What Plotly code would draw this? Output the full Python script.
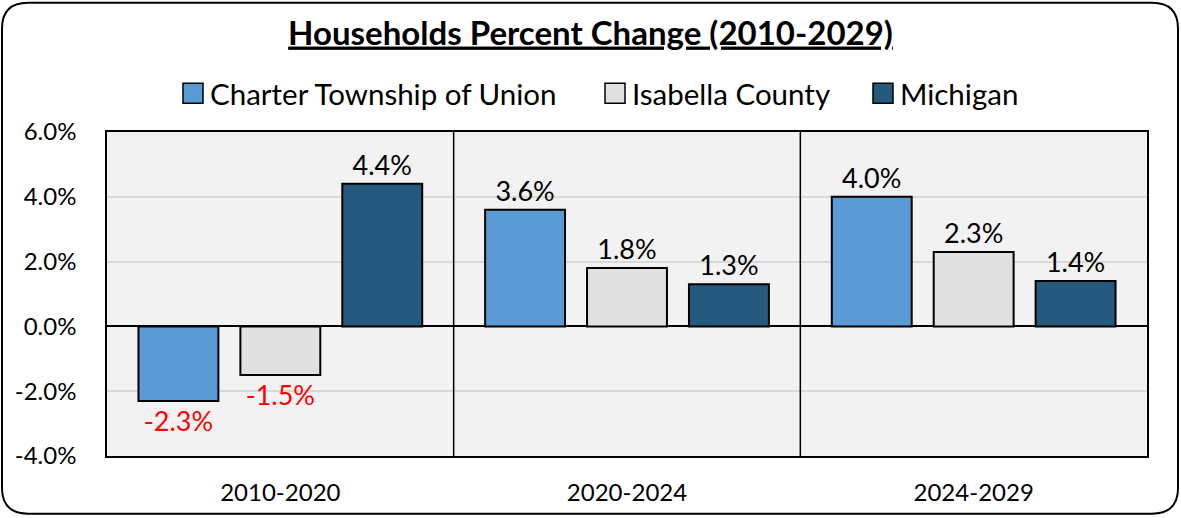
import plotly.graph_objects as go

categories = ["2010-2020", "2020-2024", "2024-2029"]
series_names = ["Charter Township of Union", "Isabella County", "Michigan"]
union_vals = [-2.3, 3.6, 4.0]
isabella_vals = [-1.5, 1.8, 2.3]
michigan_vals = [4.4, 1.3, 1.4]
colors = ["#5B9BD5", "#E0E0E0", "#255A7E"]
y_ticks = [-4, -2, 0, 2, 4, 6]

FONT = "Lato, Open Sans, sans-serif"
W, H = 1181, 518
ml, mr, mt, mb = 107, 34, 132, 60
pw, ph = W - ml - mr, H - mt - mb


def px2x(p):
    return (p - ml) / pw


def py2y(p):
    return (H - mb - p) / ph


fig = go.Figure()
for name, vals, col in zip(series_names, [union_vals, isabella_vals, michigan_vals], colors):
    fig.add_trace(go.Bar(
        x=categories, y=vals, name=name,
        marker=dict(color=col, line=dict(color="black", width=2)),
        text=[f"{v:.1f}%" for v in vals],
        textposition="outside",
        textfont=dict(size=27, color=["red" if v < 0 else "black" for v in vals], family=FONT),
        cliponaxis=False,
        showlegend=False,
    ))

# rounded outer border
x0, x1, y0, y1, r = 2, 1178, 2, 516, 26
path = (f"M {px2x(x0+r)},{py2y(y0)} L {px2x(x1-r)},{py2y(y0)} "
        f"Q {px2x(x1)},{py2y(y0)} {px2x(x1)},{py2y(y0+r)} "
        f"L {px2x(x1)},{py2y(y1-r)} Q {px2x(x1)},{py2y(y1)} {px2x(x1-r)},{py2y(y1)} "
        f"L {px2x(x0+r)},{py2y(y1)} Q {px2x(x0)},{py2y(y1)} {px2x(x0)},{py2y(y1-r)} "
        f"L {px2x(x0)},{py2y(y0+r)} Q {px2x(x0)},{py2y(y0)} {px2x(x0+r)},{py2y(y0)} Z")

shapes = [dict(type="path", path=path, xref="paper", yref="paper",
               line=dict(color="black", width=2), layer="below")]
for xb in [0.5, 1.5]:
    shapes.append(dict(type="line", xref="x", yref="paper", x0=xb, x1=xb, y0=0, y1=1,
                       line=dict(color="black", width=1.5)))

# custom legend (large square swatches)
legend_sq_left = [183, 605, 873]
annotations = []
sq = 20
ly = 93
for name, col, lx in zip(series_names, colors, legend_sq_left):
    shapes.append(dict(type="rect", xref="paper", yref="paper",
                       x0=px2x(lx), x1=px2x(lx + sq), y0=py2y(ly + sq / 2), y1=py2y(ly - sq / 2),
                       fillcolor=col, line=dict(color="black", width=1.5)))
    annotations.append(dict(xref="paper", yref="paper", x=px2x(lx + sq + 5), y=py2y(ly),
                            xanchor="left", yanchor="middle", showarrow=False,
                            text=name, font=dict(size=29.5, family=FONT, color="black")))

fig.update_layout(
    width=W, height=H,
    margin=dict(l=ml, r=mr, t=mt, b=mb),
    paper_bgcolor="white", plot_bgcolor="#F2F2F2",
    barmode="group", bargap=0.118, bargroupgap=0.216,
    font=dict(family=FONT, color="black"),
    title=dict(text="<b><u>Households Percent Change (2010-2029)</u></b>",
               x=0.5, xanchor="center", y=1 - 33 / H, yanchor="middle",
               font=dict(size=33, color="black")),
    showlegend=False,
    xaxis=dict(showline=True, linecolor="black", linewidth=1.5, mirror=True,
               tickfont=dict(size=24), ticks="", ticklabelstandoff=14),
    yaxis=dict(range=[-4, 6], tickvals=y_ticks, ticktext=[f"{v:.1f}%" for v in y_ticks],
               showline=True, linecolor="black", linewidth=1.5, mirror=True,
               gridcolor="#D9D9D9", gridwidth=1.5,
               zeroline=True, zerolinecolor="black", zerolinewidth=2,
               tickfont=dict(size=24), ticks="", ticklabelstandoff=24),
    shapes=shapes,
    annotations=annotations,
)
fig.write_html("out.html", config={"displayModeBar": False},
               post_script="document.body.style.margin='0';")
